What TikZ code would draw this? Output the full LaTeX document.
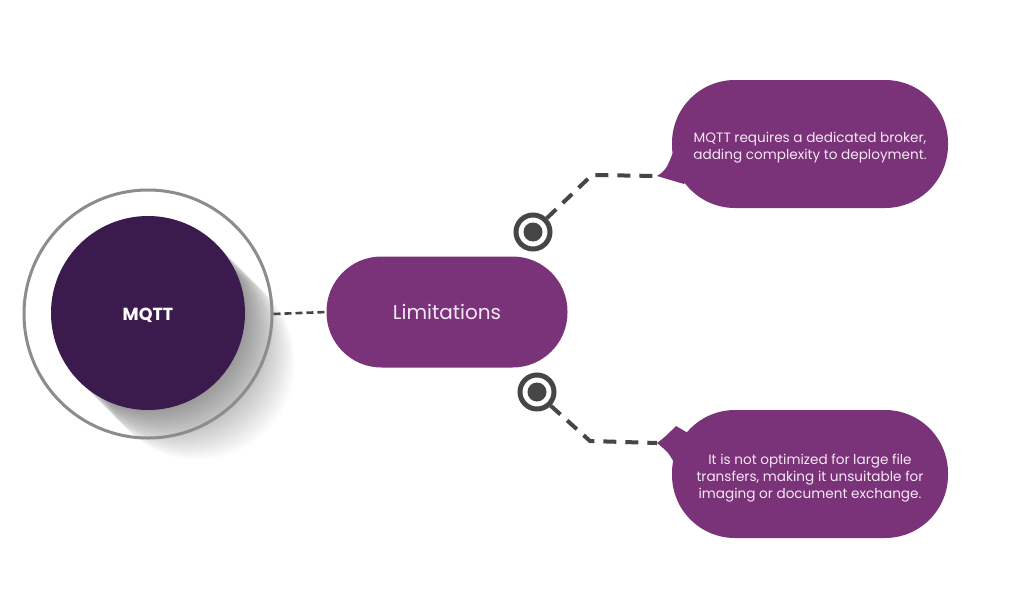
\documentclass[tikz,border=0pt]{standalone}
\usepackage{fontspec}
\setmainfont{Poppins}
\begin{document}
\begin{tikzpicture}[x=1pt,y=-1pt,
  dashline/.style={draw=dashgray,line width=4,dash pattern=on 13 off 9},
  thindash/.style={draw=dashgray,line width=2.6,dash pattern=on 7 off 4},
  target/.style={circle,draw=dashgray,line width=5,fill=white,minimum size=34,inner sep=0},
  bubble/.style={fill=plum,rounded corners=63,minimum width=276,minimum height=128},
  bubbletext/.style={text=textpink,align=center,font=\fontsize{13.6}{17}\selectfont},
]
\definecolor{plum}{HTML}{7A3278}
\definecolor{darkplum}{HTML}{3B1A4E}
\definecolor{dashgray}{HTML}{464646}
\definecolor{ringgray}{HTML}{8C8C8C}
\definecolor{textpink}{HTML}{F6E8F4}
\useasboundingbox (0,0) rectangle (1024,597);
\fill[white] (0,0) rectangle (1024,597);
% shadow
\foreach \i in {1,...,50} {
  \fill[black,opacity=0.008] (148+\i,313+\i) circle (97);
}
% ring
\node[circle,draw=ringgray,line width=3,minimum size=248,inner sep=0] (ring) at (148,314) {};
\node[circle,fill=darkplum,minimum size=194,inner sep=0,text=white,font=\fontsize{17.5}{20}\selectfont\bfseries,text depth=0pt] (mqtt) at (148,313) {\raisebox{-3pt}{MQTT}};
% limitations
\node[fill=plum,rounded corners=55,minimum width=241,minimum height=111,text=textpink,font=\fontsize{20}{24}\selectfont] (lim) at (447,312) {Limitations};
\draw[thindash] (ring.east) -- (lim.west);
% bubbles
\node[bubble] (b1) at (810,144) {};
\node[bubble] (b2) at (810,474) {};
\node[bubbletext] (b1text) at ([yshift=-4]b1.center) {MQTT requires a dedicated broker,\\adding complexity to deployment.};
\node[bubbletext] (b2text) at ([yshift=-4]b2.center) {It is not optimized for large file\\transfers, making it unsuitable for\\imaging or document exchange.};
\coordinate (t1) at (657,176);
\coordinate (t2) at (657,443);
\fill[plum] (t1) .. controls (666,170) .. (674,150) -- (700,160) -- (684,184) .. controls (670,180) .. (t1) -- cycle;
\fill[plum] (t2) .. controls (665,437) .. (676,426) -- (700,440) -- (675,464) .. controls (668,452) .. (t2) -- cycle;
% targets
\node[target] (g1) at (533,232) {};
\node[target] (g2) at (537,392) {};
\fill[dashgray] (g1) circle (9.5);
\fill[dashgray] (g2) circle (9.5);
\coordinate (k1) at (592,175);
\coordinate (k2) at (590,441);
\draw[dashline] (g1.45) -- (k1) -- (t1);
\draw[dashline] (g2.-45) -- (k2) -- (t2);
\end{tikzpicture}
\end{document}
